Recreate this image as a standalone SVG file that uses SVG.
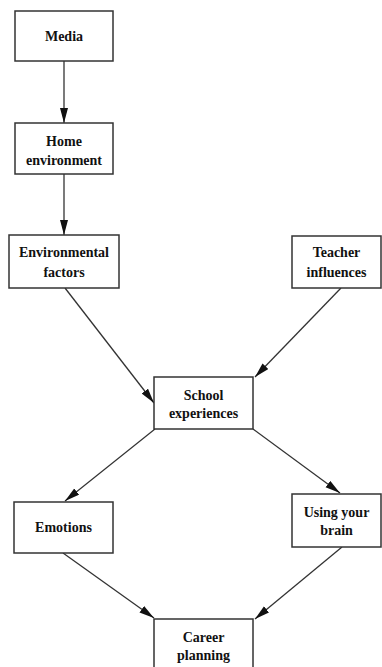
<svg xmlns="http://www.w3.org/2000/svg" width="382" height="667" viewBox="0 0 382 667">
  <style>
    .box { fill: #ffffff; stroke: #333333; stroke-width: 1.5; }
    .lbl { font-family: "Liberation Serif", "Times New Roman", serif; font-weight: bold; font-size: 14px; fill: #111111; text-anchor: middle; }
    .edge { stroke: #333333; stroke-width: 1.3; fill: none; marker-end: url(#arrow); }
  </style>
  <defs>
    <marker id="arrow" markerUnits="userSpaceOnUse" markerWidth="16" markerHeight="10" refX="15" refY="4" orient="auto">
      <path d="M0,0 L15,4 L0,8 Z" fill="#111111"/>
    </marker>
  </defs>
  <rect width="382" height="667" fill="#ffffff"/>

  <g id="connectors">
    <line class="edge" x1="64" y1="61" x2="64" y2="123"/>
    <line class="edge" x1="64" y1="174" x2="64" y2="235"/>
    <line class="edge" x1="65" y1="288" x2="154" y2="403"/>
    <line class="edge" x1="341" y1="288" x2="255" y2="377"/>
    <line class="edge" x1="155" y1="429" x2="65" y2="501"/>
    <line class="edge" x1="253" y1="429" x2="340" y2="493"/>
    <line class="edge" x1="63" y1="553" x2="154" y2="618"/>
    <line class="edge" x1="342" y1="547" x2="255" y2="619"/>
  </g>

  <g id="media">
    <rect class="box" x="15" y="11" width="98" height="50"/>
    <text class="lbl" x="64" y="41">Media</text>
  </g>
  <g id="home-environment">
    <rect class="box" x="15" y="123" width="98" height="51"/>
    <text class="lbl" x="64" y="146">Home</text>
    <text class="lbl" x="64" y="165">environment</text>
  </g>
  <g id="environmental-factors">
    <rect class="box" x="9" y="235" width="110" height="53"/>
    <text class="lbl" x="64" y="257">Environmental</text>
    <text class="lbl" x="64" y="277">factors</text>
  </g>
  <g id="teacher-influences">
    <rect class="box" x="292" y="236" width="89" height="52"/>
    <text class="lbl" x="336.5" y="257">Teacher</text>
    <text class="lbl" x="336.5" y="277">influences</text>
  </g>
  <g id="school-experiences">
    <rect class="box" x="154" y="377" width="99" height="52"/>
    <text class="lbl" x="203.5" y="400">School</text>
    <text class="lbl" x="203.5" y="418">experiences</text>
  </g>
  <g id="emotions">
    <rect class="box" x="14" y="502" width="99" height="51"/>
    <text class="lbl" x="63.5" y="532">Emotions</text>
  </g>
  <g id="using-your-brain">
    <rect class="box" x="292" y="494" width="89" height="53"/>
    <text class="lbl" x="336.5" y="517">Using your</text>
    <text class="lbl" x="336.5" y="535">brain</text>
  </g>
  <g id="career-planning">
    <rect class="box" x="154" y="619" width="99" height="60"/>
    <text class="lbl" x="203.5" y="642">Career</text>
    <text class="lbl" x="203.5" y="660">planning</text>
  </g>
</svg>
